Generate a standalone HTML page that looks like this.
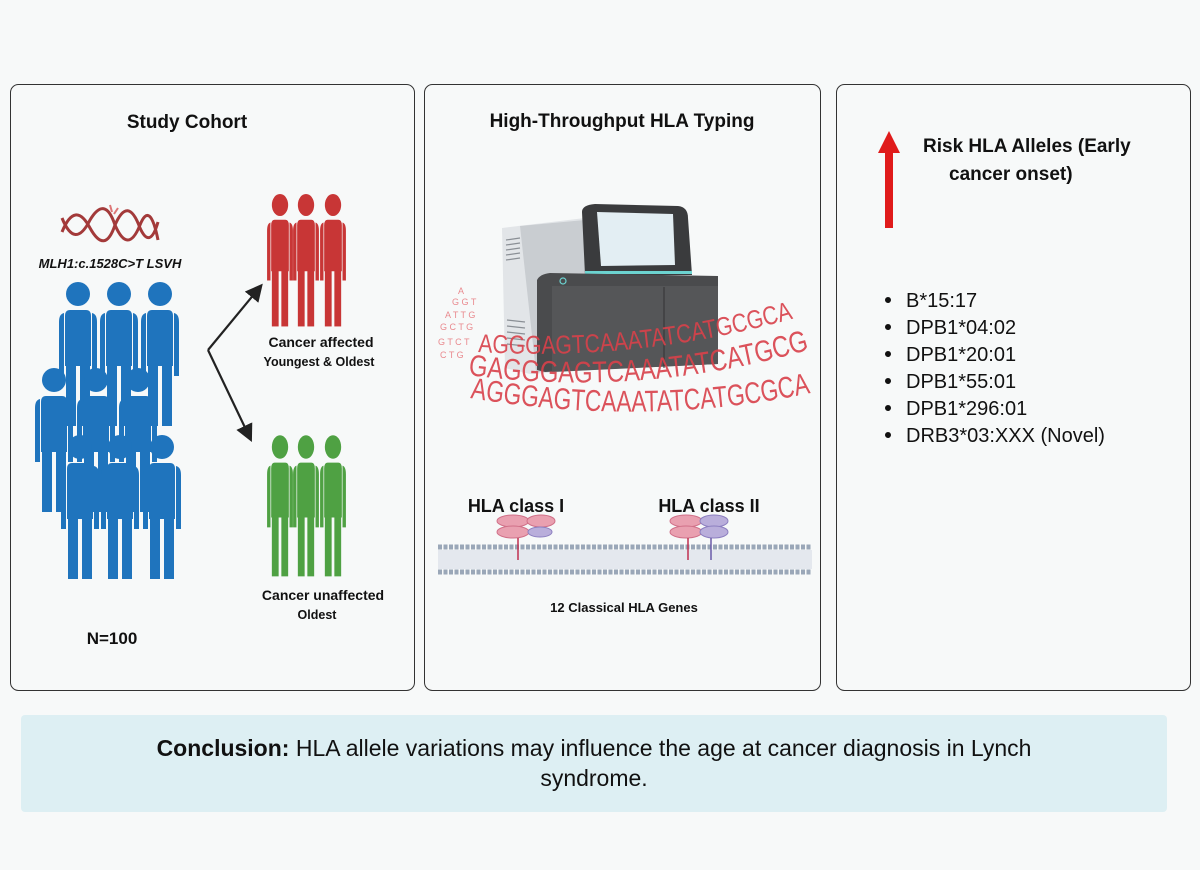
<!DOCTYPE html>
<html><head><meta charset="utf-8"><style>
html,body{margin:0;padding:0;background:#f7f9f9}
svg{display:block}
text{font-family:"Liberation Sans",sans-serif}
</style></head><body>
<svg width="1200" height="870" viewBox="0 0 1200 870" xmlns="http://www.w3.org/2000/svg">
<defs>
<g id="person">
<circle cx="0" cy="0" r="12"/>
<path d="M-8,16 H8 Q13,16 13,22 V72 H-13 V22 Q-13,16 -8,16 Z"/>
<path d="M-14,19 Q-19,20 -19,28 V82 H-14 Z M14,19 Q19,20 19,28 V82 H14 Z"/>
<rect x="-12" y="70" width="10" height="62"/>
<rect x="2" y="70" width="10" height="62"/>
</g>
<path id="c1" d="M478,352 Q640,362 795,318"/>
<path id="c2" d="M468,375 Q640,398 808,350"/>
<path id="c3" d="M470,398 Q650,428 815,392"/>
<marker id="ah" markerWidth="8" markerHeight="8" refX="6" refY="4" orient="auto"><path d="M0,0 L8,4 L0,8 Z" fill="#222"/></marker>
</defs>
<rect width="1200" height="870" fill="#f7f9f9"/>
<rect x="10.5" y="84.5" width="404" height="606" rx="8" fill="#f7f9f9" stroke="#333"/>
<rect x="424.5" y="84.5" width="396" height="606" rx="8" fill="#f7f9f9" stroke="#333"/>
<rect x="836.5" y="84.5" width="354" height="606" rx="8" fill="#f7f9f9" stroke="#333"/>
<rect x="21" y="715" width="1146" height="97" rx="4" fill="#ddeff3"/>

<!-- left -->
<text x="187" y="128" font-size="19" font-weight="bold" text-anchor="middle" fill="#111">Study Cohort</text>
<g fill="none" stroke="#a33a3a" stroke-width="3">
<path d="M62,218 Q75,250 90,220 Q105,195 115,225 Q128,255 140,225 Q150,200 158,240"/>
<path d="M62,232 Q75,200 90,228 Q105,255 115,225 Q128,195 140,228 Q150,250 158,222"/>
</g>
<g stroke="#d77" stroke-width="2"><line x1="110" y1="205" x2="112" y2="212"/><line x1="118" y1="208" x2="114" y2="214"/></g>
<text x="110" y="268" font-size="13" font-weight="bold" font-style="italic" text-anchor="middle" fill="#111">MLH1:c.1528C&gt;T LSVH</text>
<g fill="#1f74bd">
<use href="#person" x="78" y="294"/><use href="#person" x="119" y="294"/><use href="#person" x="160" y="294"/>
<use href="#person" x="54" y="380"/><use href="#person" x="96" y="380"/><use href="#person" x="138" y="380"/>
<use href="#person" x="80" y="447"/><use href="#person" x="120" y="447"/><use href="#person" x="162" y="447"/>
</g>
<g fill="#c83636">
<use href="#person" transform="translate(280,205) scale(0.68,0.92)"/>
<use href="#person" transform="translate(306,205) scale(0.68,0.92)"/>
<use href="#person" transform="translate(333,205) scale(0.68,0.92)"/>
</g>
<g fill="#4fa143">
<use href="#person" transform="translate(280,447) scale(0.68,0.98)"/>
<use href="#person" transform="translate(306,447) scale(0.68,0.98)"/>
<use href="#person" transform="translate(333,447) scale(0.68,0.98)"/>
</g>
<g stroke="#222" stroke-width="2.2" fill="none" marker-end="url(#ah)">
<line x1="208" y1="350" x2="260" y2="287"/>
<line x1="208" y1="350" x2="250" y2="438"/>
</g>
<text x="321" y="347" font-size="14" font-weight="bold" text-anchor="middle" fill="#111">Cancer affected</text>
<text x="319" y="366" font-size="12.5" font-weight="bold" text-anchor="middle" fill="#111">Youngest &amp; Oldest</text>
<text x="323" y="600" font-size="14" font-weight="bold" text-anchor="middle" fill="#111">Cancer unaffected</text>
<text x="317" y="619" font-size="12.5" font-weight="bold" text-anchor="middle" fill="#111">Oldest</text>
<text x="112" y="644" font-size="17" font-weight="bold" text-anchor="middle" fill="#111">N=100</text>

<!-- middle -->
<text x="622" y="127" font-size="19" font-weight="bold" text-anchor="middle" fill="#111">High-Throughput HLA Typing</text>
<path d="M502,228 L585,218 L592,370 L530,374 L505,368 Z" fill="#e2e5e8"/>
<path d="M520,226 L585,220 L592,370 L536,372 Z" fill="#c9cdd1"/>
<g stroke="#8a8f95" stroke-width="1.2">
<line x1="506" y1="240" x2="520" y2="238"/><line x1="506" y1="245" x2="520" y2="243"/><line x1="506" y1="250" x2="520" y2="248"/><line x1="506" y1="255" x2="520" y2="253"/><line x1="506" y1="260" x2="520" y2="258"/>
<line x1="507" y1="320" x2="525" y2="322"/><line x1="507" y1="326" x2="525" y2="328"/><line x1="507" y1="332" x2="525" y2="334"/><line x1="507" y1="338" x2="525" y2="340"/><line x1="507" y1="344" x2="525" y2="346"/>
</g>
<path d="M582,212 Q582,205 595,204 L678,206 Q688,207 688,218 L692,275 L585,275 Z" fill="#3a3b3d"/>
<path d="M597,212 L673,214 L675,265 L601,266 Z" fill="#e3eef3"/>
<rect x="585" y="271" width="107" height="3" fill="#6cd3d0"/>
<path d="M537,280 Q540,274 550,273 L718,276 L718,364 L545,372 L537,370 Z" fill="#4a4b4d"/>
<path d="M552,286 L718,286 L718,364 L552,372 Z" fill="#555658"/>
<line x1="664" y1="287" x2="664" y2="368" stroke="#333"/>
<circle cx="563" cy="281" r="3" fill="none" stroke="#6cd3d0" stroke-width="1.2"/>
<g fill="#d9414a">
<text font-size="26" opacity="0.9"><textPath href="#c1" textLength="330" lengthAdjust="spacingAndGlyphs">AGGGAGTCAAATATCATGCGCAT</textPath></text>
<text font-size="30" opacity="0.9"><textPath href="#c2" textLength="345" lengthAdjust="spacingAndGlyphs">GAGGGAGTCAAATATCATGCG</textPath></text>
<text font-size="30" opacity="0.9"><textPath href="#c3" textLength="355" lengthAdjust="spacingAndGlyphs">AGGGAGTCAAATATCATGCGCAT</textPath></text>
</g>
<g fill="#e98a8f" font-size="9">
<text x="440" y="330">G C T G</text><text x="445" y="318">A T T G</text><text x="452" y="305">G G T</text><text x="458" y="294">A</text><text x="438" y="345">G T C T</text><text x="440" y="358">C T G</text>
</g>
<text x="516" y="512" font-size="18" font-weight="bold" text-anchor="middle" fill="#111">HLA class I</text>
<text x="709" y="512" font-size="18" font-weight="bold" text-anchor="middle" fill="#111">HLA class II</text>
<g>
<line x1="438" y1="547" x2="812" y2="547" stroke="#9aa7b8" stroke-width="5" stroke-dasharray="4 1.5"/>
<line x1="438" y1="572" x2="812" y2="572" stroke="#9aa7b8" stroke-width="5" stroke-dasharray="4 1.5"/>
<rect x="438" y="550" width="374" height="19" fill="#e4e8ee"/>
</g>
<g fill="#e9a0b0" stroke="#d07088" stroke-width="1">
<ellipse cx="513" cy="521" rx="16" ry="6"/><ellipse cx="541" cy="521" rx="14" ry="6"/><ellipse cx="513" cy="532" rx="16" ry="6"/>
<ellipse cx="686" cy="521" rx="16" ry="6"/><ellipse cx="686" cy="532" rx="16" ry="6"/>
</g>
<g fill="#b9aedb" stroke="#8c7fc0" stroke-width="1">
<ellipse cx="540" cy="532" rx="12" ry="5"/><ellipse cx="714" cy="521" rx="14" ry="6"/><ellipse cx="714" cy="532" rx="14" ry="6"/>
</g>
<line x1="518" y1="538" x2="518" y2="560" stroke="#c03050" stroke-width="1.5"/>
<line x1="688" y1="538" x2="688" y2="560" stroke="#c03050" stroke-width="1.5"/>
<line x1="711" y1="538" x2="711" y2="560" stroke="#6a5aa8" stroke-width="1.5"/>
<text x="624" y="612" font-size="13" font-weight="bold" text-anchor="middle" fill="#111">12 Classical HLA Genes</text>

<!-- right -->
<rect x="885" y="150" width="8" height="78" fill="#e01b1b"/>
<path d="M878,153 L889,131 L900,153 Z" fill="#e01b1b"/>
<text x="923" y="152" font-size="19" font-weight="bold" fill="#111">Risk HLA Alleles (Early</text>
<text x="949" y="180" font-size="19" font-weight="bold" fill="#111">cancer onset)</text>
<g font-size="20" fill="#111">
<text x="906" y="307">B*15:17</text>
<text x="906" y="334">DPB1*04:02</text>
<text x="906" y="361">DPB1*20:01</text>
<text x="906" y="388">DPB1*55:01</text>
<text x="906" y="415">DPB1*296:01</text>
<text x="906" y="442">DRB3*03:XXX (Novel)</text>
</g>
<g fill="#111">
<circle cx="888" cy="300" r="3"/><circle cx="888" cy="327" r="3"/><circle cx="888" cy="354" r="3"/>
<circle cx="888" cy="381" r="3"/><circle cx="888" cy="408" r="3"/><circle cx="888" cy="435" r="3"/>
</g>

<!-- conclusion -->
<text x="594" y="756" font-size="23" text-anchor="middle" fill="#111"><tspan font-weight="bold">Conclusion:</tspan> HLA allele variations may influence the age at cancer diagnosis in Lynch</text>
<text x="594" y="786" font-size="23" text-anchor="middle" fill="#111">syndrome.</text>
</svg>
</body></html>
